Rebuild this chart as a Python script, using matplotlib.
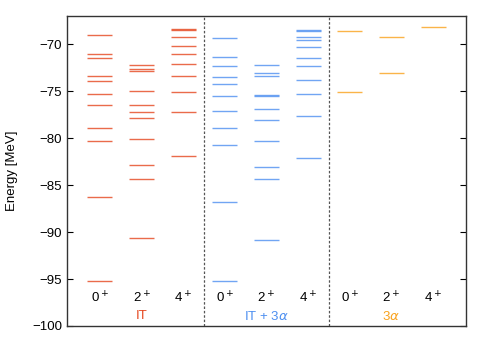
import matplotlib
matplotlib.use("Agg")
import matplotlib.pyplot as plt

plt.rcParams['font.family'] = ['Liberation Sans', 'DejaVu Sans']

# energy levels [MeV], per group and spin
it_0 = [-69.0, -71.0, -71.5, -73.35, -73.95, -75.25, -76.5, -78.95, -80.25, -86.25, -95.25]
it_2 = [-72.25, -72.65, -72.8, -75.0, -76.45, -77.2, -77.9, -80.05, -82.85, -84.35, -90.6]
it_4 = [-68.35, -68.5, -69.2, -70.15, -71.0, -72.05, -73.35, -75.1, -77.25, -81.9]

itx_0 = [-69.35, -71.4, -72.35, -73.5, -74.2, -75.55, -77.15, -78.95, -80.75, -86.75, -95.2]
itx_2 = [-72.25, -73.1, -73.35, -75.35, -75.5, -76.85, -78.1, -80.35, -83.05, -84.35, -90.8]
itx_4 = [-68.45, -68.55, -69.2, -69.5, -70.25, -71.5, -72.35, -73.85, -75.3, -77.6, -82.15]

a3_0 = [-68.55, -75.05]
a3_2 = [-69.25, -73.05]
a3_4 = [-68.2]

spins = ['0$^+$', '2$^+$', '4$^+$']
groups = ['IT', 'IT + 3$\\alpha$', '3$\\alpha$']
colors = ['#e5461e', '#4d8ff0', '#f9a21c']
levels = [[it_0, it_2, it_4], [itx_0, itx_2, itx_4], [a3_0, a3_2, a3_4]]

fig = plt.figure(figsize=(4.91, 3.43), dpi=100)
ax = fig.add_axes([0.1365, 0.0496, 0.8125, 0.9034])

for g in range(3):
    for s in range(3):
        x = 1 + 3 * g + s
        for e in levels[g][s]:
            ax.plot([x - 0.3, x + 0.3], [e, e], color=colors[g], lw=1.0, alpha=0.8,
                    solid_capstyle='butt')
        ax.text(x, -97.0, spins[s], ha='center', va='center', fontsize=9.5)
    ax.text(2 + 3 * g, -98.95, groups[g], ha='center', va='center', fontsize=9.5,
            color=colors[g])

for xs in [3.5, 6.5]:
    ax.axvline(xs, color='#555555', ls=(0, (2, 1.5)), lw=0.9)

ax.set_xlim(0.21, 9.79)
ax.set_ylim(-100, -67)
ax.set_xticks([])
ax.set_yticks([-100, -95, -90, -85, -80, -75, -70])
ax.tick_params(axis='y', direction='in', right=True, length=4, labelsize=9.5, width=0.8)
ax.set_ylabel('Energy [MeV]', fontsize=9.5, labelpad=10)
for sp in ax.spines.values():
    sp.set_color('#333333')
    sp.set_linewidth(1.0)

fig.savefig('out.png', dpi=100)
